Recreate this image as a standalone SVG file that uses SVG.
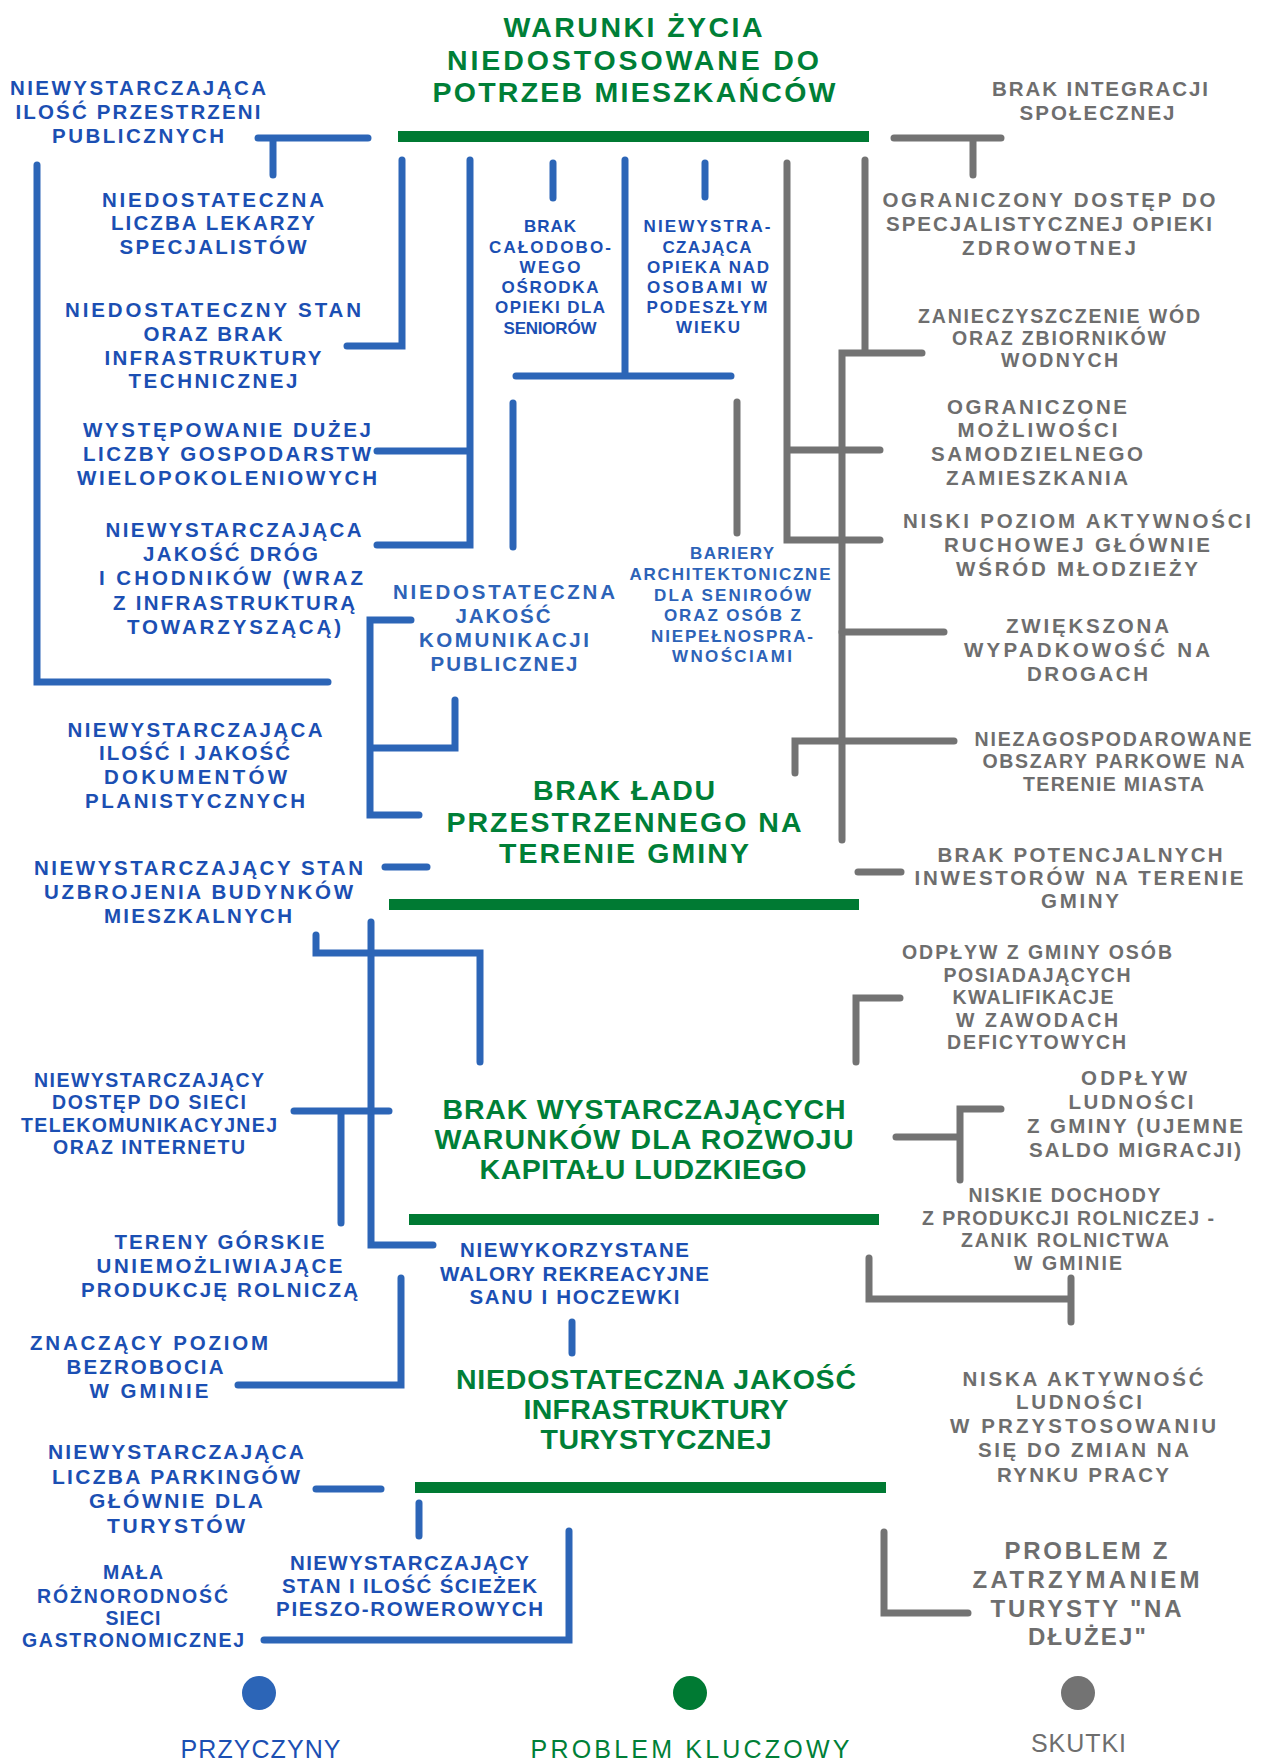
<svg xmlns="http://www.w3.org/2000/svg" width="1264" height="1762" viewBox="0 0 1264 1762">
<style>
text{font-family:"Liberation Sans",Arial,sans-serif;text-anchor:middle;font-weight:700}
.b{fill:#1b4fb3;font-size:20.5px}
.bs{fill:#1b4fb3;font-size:17px}
.bl{fill:#2d63b8;font-size:20.5px}
.bls{fill:#2d63b8;font-size:17px}
.g{fill:#6e6e6e;font-size:20.5px}
.gs{fill:#6e6e6e;font-size:19.5px}
.gb{fill:#6e6e6e;font-size:24px}
.t{fill:#007f37;font-size:28.5px}
.lgd{font-size:25px;font-weight:400}
.lb{stroke:#2c65b7;stroke-width:7;fill:none;stroke-linecap:round}
.lg{stroke:#737373;stroke-width:7;fill:none;stroke-linecap:round}
.bar{fill:#007a33}
</style>
<rect width="1264" height="1762" fill="#ffffff"/>

<g id="connectors">
<g class="lb">
<path d="M258 138H368M273 138V175"/>
<path d="M37 165V682H328"/>
<path d="M402 160V346H347"/>
<path d="M470 160V545H377M377 451H470"/>
<path d="M553 163V198"/>
<path d="M625 160V376M516 376H731"/>
<path d="M705 163V197"/>
<path d="M513 403V547"/>
<path d="M411 620H370V815H419M370 748H455V700"/>
<path d="M385 867H427"/>
<path d="M371 922V1245H433"/>
<path d="M316 935V953H480V1062"/>
<path d="M294 1111H389M341 1111V1223"/>
<path d="M401 1278V1385H238"/>
<path d="M572 1322V1353"/>
<path d="M316 1489H381"/>
<path d="M419 1503V1536"/>
<path d="M569 1531V1640H264"/>
</g>
<g class="lg">
<path d="M894 138H1001M973 138V175"/>
<path d="M787 163V540H880M787 450H880"/>
<path d="M865 160V353M922 353H842V840"/>
<path d="M842 632H944M954 741H795V773"/>
<path d="M858 872H901"/>
<path d="M737 402V533"/>
<path d="M856 1062V998H900"/>
<path d="M896 1137H960M1001 1109H960V1180"/>
<path d="M869 1258V1299H1071M1071 1278V1322"/>
<path d="M884 1532V1613H968"/>
</g>
</g>

<g id="bars">
<rect class="bar" x="398" y="131" width="471" height="11"/>
<rect class="bar" x="389" y="899" width="470" height="11"/>
<rect class="bar" x="409" y="1214" width="470" height="11"/>
<rect class="bar" x="415" y="1482" width="471" height="11"/>
</g>

<g id="key-warunki" class="t">
<text x="633" y="37" textLength="259" lengthAdjust="spacing">WARUNKI ŻYCIA</text>
<text x="633" y="70" textLength="372" lengthAdjust="spacing">NIEDOSTOSOWANE DO</text>
<text x="634" y="102" textLength="403" lengthAdjust="spacing">POTRZEB MIESZKAŃCÓW</text>
</g>
<g id="key-lad" class="t">
<text x="624" y="800" textLength="182" lengthAdjust="spacing">BRAK ŁADU</text>
<text x="624" y="832" textLength="355" lengthAdjust="spacing">PRZESTRZENNEGO NA</text>
<text x="624" y="863" textLength="250" lengthAdjust="spacing">TERENIE GMINY</text>
</g>
<g id="key-kapital" class="t">
<text x="644" y="1119" textLength="403" lengthAdjust="spacing">BRAK  WYSTARCZAJĄCYCH</text>
<text x="644" y="1149" textLength="419" lengthAdjust="spacing">WARUNKÓW DLA ROZWOJU</text>
<text x="643" y="1179" textLength="327" lengthAdjust="spacing">KAPITAŁU LUDZKIEGO</text>
</g>
<g id="key-turystyka" class="t">
<text x="656" y="1389" textLength="400" lengthAdjust="spacing">NIEDOSTATECZNA JAKOŚĆ</text>
<text x="656" y="1419" textLength="265" lengthAdjust="spacing">INFRASTRUKTURY</text>
<text x="656" y="1449" textLength="231" lengthAdjust="spacing">TURYSTYCZNEJ</text>
</g>

<g id="c-przestrzen" class="b">
<text x="138" y="95" textLength="256" lengthAdjust="spacing">NIEWYSTARCZAJĄCA</text>
<text x="138" y="119" textLength="245" lengthAdjust="spacing">ILOŚĆ PRZESTRZENI</text>
<text x="138" y="143" textLength="172" lengthAdjust="spacing">PUBLICZNYCH</text>
</g>
<g id="c-lekarze" class="b">
<text x="213" y="207" textLength="222" lengthAdjust="spacing">NIEDOSTATECZNA</text>
<text x="213" y="230" textLength="204" lengthAdjust="spacing">LICZBA LEKARZY</text>
<text x="213" y="254" textLength="187" lengthAdjust="spacing">SPECJALISTÓW</text>
</g>
<g id="c-osrodek" class="bs">
<text x="550" y="232" textLength="52" lengthAdjust="spacing">BRAK</text>
<text x="550" y="253" textLength="122" lengthAdjust="spacing">CAŁODOBO-</text>
<text x="550" y="273" textLength="61" lengthAdjust="spacing">WEGO</text>
<text x="550" y="293" textLength="97" lengthAdjust="spacing">OŚRODKA</text>
<text x="550" y="313" textLength="110" lengthAdjust="spacing">OPIEKI DLA</text>
<text x="550" y="334" textLength="93" lengthAdjust="spacing">SENIORÓW</text>
</g>
<g id="c-opieka" class="bs">
<text x="707" y="232" textLength="127" lengthAdjust="spacing">NIEWYSTRA-</text>
<text x="707" y="253" textLength="89" lengthAdjust="spacing">CZAJĄCA</text>
<text x="708" y="273" textLength="122" lengthAdjust="spacing">OPIEKA NAD</text>
<text x="707" y="293" textLength="120" lengthAdjust="spacing">OSOBAMI W</text>
<text x="707" y="313" textLength="121" lengthAdjust="spacing">PODESZŁYM</text>
<text x="708" y="333" textLength="64" lengthAdjust="spacing">WIEKU</text>
</g>
<g id="c-infrastruktura" class="b">
<text x="213" y="317" textLength="296" lengthAdjust="spacing">NIEDOSTATECZNY STAN</text>
<text x="213" y="341" textLength="139" lengthAdjust="spacing">ORAZ BRAK</text>
<text x="213" y="365" textLength="217" lengthAdjust="spacing">INFRASTRUKTURY</text>
<text x="213" y="388" textLength="169" lengthAdjust="spacing">TECHNICZNEJ</text>
</g>
<g id="c-gospodarstwa" class="b">
<text x="227" y="437" textLength="288" lengthAdjust="spacing">WYSTĘPOWANIE DUŻEJ</text>
<text x="227" y="461" textLength="288" lengthAdjust="spacing">LICZBY GOSPODARSTW</text>
<text x="227" y="485" textLength="300" lengthAdjust="spacing">WIELOPOKOLENIOWYCH</text>
</g>
<g id="c-drogi" class="b">
<text x="233.5" y="537" textLength="256" lengthAdjust="spacing">NIEWYSTARCZAJĄCA</text>
<text x="230.5" y="561" textLength="175" lengthAdjust="spacing">JAKOŚĆ DRÓG</text>
<text x="231" y="585" textLength="264" lengthAdjust="spacing">I CHODNIKÓW (WRAZ</text>
<text x="234" y="610" textLength="242" lengthAdjust="spacing">Z INFRASTRUKTURĄ</text>
<text x="234" y="634" textLength="214" lengthAdjust="spacing">TOWARZYSZĄCĄ)</text>
</g>
<g id="c-komunikacja" class="bl">
<text x="504" y="599" textLength="222" lengthAdjust="spacing">NIEDOSTATECZNA</text>
<text x="503" y="623" textLength="95" lengthAdjust="spacing">JAKOŚĆ</text>
<text x="504" y="647" textLength="170" lengthAdjust="spacing">KOMUNIKACJI</text>
<text x="504" y="671" textLength="147" lengthAdjust="spacing">PUBLICZNEJ</text>
</g>
<g id="c-bariery" class="bls">
<text x="732" y="559" textLength="84" lengthAdjust="spacing">BARIERY</text>
<text x="730" y="580" textLength="201" lengthAdjust="spacing">ARCHITEKTONICZNE</text>
<text x="732.5" y="601" textLength="157" lengthAdjust="spacing">DLA SENIROÓW</text>
<text x="732.5" y="621" textLength="137" lengthAdjust="spacing">ORAZ OSÓB Z</text>
<text x="732" y="642" textLength="162" lengthAdjust="spacing">NIEPEŁNOSPRA-</text>
<text x="732" y="662" textLength="120" lengthAdjust="spacing">WNOŚCIAMI</text>
</g>
<g id="c-dokumenty" class="b">
<text x="195" y="737" textLength="255" lengthAdjust="spacing">NIEWYSTARCZAJĄCA</text>
<text x="194.5" y="760" textLength="191" lengthAdjust="spacing">ILOŚĆ I JAKOŚĆ</text>
<text x="195.5" y="784" textLength="183" lengthAdjust="spacing">DOKUMENTÓW</text>
<text x="195" y="808" textLength="220" lengthAdjust="spacing">PLANISTYCZNYCH</text>
</g>
<g id="c-uzbrojenie" class="b">
<text x="198.5" y="875" textLength="329" lengthAdjust="spacing">NIEWYSTARCZAJĄCY STAN</text>
<text x="198.5" y="899" textLength="309" lengthAdjust="spacing">UZBROJENIA BUDYNKÓW</text>
<text x="198" y="923" textLength="188" lengthAdjust="spacing">MIESZKALNYCH</text>
</g>
<g id="c-telekom" class="b" style="font-size:19.5px">
<text x="149" y="1087" textLength="230" lengthAdjust="spacing">NIEWYSTARCZAJĄCY</text>
<text x="149" y="1109" textLength="194" lengthAdjust="spacing">DOSTĘP DO SIECI</text>
<text x="149" y="1132" textLength="256" lengthAdjust="spacing">TELEKOMUNIKACYJNEJ</text>
<text x="149" y="1154" textLength="192" lengthAdjust="spacing">ORAZ INTERNETU</text>
</g>
<g id="c-walory" class="b">
<text x="574.5" y="1257" textLength="229" lengthAdjust="spacing">NIEWYKORZYSTANE</text>
<text x="574.5" y="1281" textLength="269" lengthAdjust="spacing">WALORY REKREACYJNE</text>
<text x="574.5" y="1304" textLength="210" lengthAdjust="spacing">SANU I HOCZEWKI</text>
</g>
<g id="c-gory" class="b">
<text x="219.5" y="1249" textLength="210" lengthAdjust="spacing">TERENY GÓRSKIE</text>
<text x="219.5" y="1273" textLength="246" lengthAdjust="spacing">UNIEMOŻLIWIAJĄCE</text>
<text x="219.5" y="1297" textLength="277" lengthAdjust="spacing">PRODUKCJĘ ROLNICZĄ</text>
</g>
<g id="c-bezrobocie" class="b">
<text x="149" y="1350" textLength="238" lengthAdjust="spacing">ZNACZĄCY POZIOM</text>
<text x="145" y="1374" textLength="157" lengthAdjust="spacing">BEZROBOCIA</text>
<text x="149" y="1398" textLength="119" lengthAdjust="spacing">W GMINIE</text>
</g>
<g id="c-parkingi" class="b" style="font-size:21px">
<text x="176" y="1459" textLength="256" lengthAdjust="spacing">NIEWYSTARCZAJĄCA</text>
<text x="176" y="1484" textLength="248" lengthAdjust="spacing">LICZBA PARKINGÓW</text>
<text x="176" y="1508" textLength="174" lengthAdjust="spacing">GŁÓWNIE DLA</text>
<text x="176" y="1533" textLength="138" lengthAdjust="spacing">TURYSTÓW</text>
</g>
<g id="c-gastronomia" class="b" style="font-size:19.5px">
<text x="133" y="1579" textLength="60" lengthAdjust="spacing">MAŁA</text>
<text x="132.5" y="1603" textLength="191" lengthAdjust="spacing">RÓŻNORODNOŚĆ</text>
<text x="133" y="1625" textLength="55" lengthAdjust="spacing">SIECI</text>
<text x="133" y="1647" textLength="222" lengthAdjust="spacing">GASTRONOMICZNEJ</text>
</g>
<g id="c-sciezki" class="b">
<text x="409.5" y="1570" textLength="239" lengthAdjust="spacing">NIEWYSTARCZAJĄCY</text>
<text x="409.5" y="1593" textLength="255" lengthAdjust="spacing">STAN I ILOŚĆ ŚCIEŻEK</text>
<text x="409.5" y="1616" textLength="267" lengthAdjust="spacing">PIESZO-ROWEROWYCH</text>
</g>

<g id="s-integracja" class="g">
<text x="1100" y="96" textLength="216" lengthAdjust="spacing">BRAK INTEGRACJI</text>
<text x="1097" y="120" textLength="155" lengthAdjust="spacing">SPOŁECZNEJ</text>
</g>
<g id="s-opieka" class="g">
<text x="1049" y="207" textLength="333" lengthAdjust="spacing">OGRANICZONY DOSTĘP DO</text>
<text x="1049" y="231" textLength="326" lengthAdjust="spacing">SPECJALISTYCZNEJ OPIEKI</text>
<text x="1049" y="255" textLength="174" lengthAdjust="spacing">ZDROWOTNEJ</text>
</g>
<g id="s-wody" class="gs">
<text x="1059" y="323" textLength="282" lengthAdjust="spacing">ZANIECZYSZCZENIE WÓD</text>
<text x="1059" y="345" textLength="214" lengthAdjust="spacing">ORAZ ZBIORNIKÓW</text>
<text x="1059.5" y="367" textLength="117" lengthAdjust="spacing">WODNYCH</text>
</g>
<g id="s-zamieszkanie" class="g">
<text x="1037" y="414" textLength="180" lengthAdjust="spacing">OGRANICZONE</text>
<text x="1037.5" y="437" textLength="160" lengthAdjust="spacing">MOŻLIWOŚCI</text>
<text x="1037" y="461" textLength="212" lengthAdjust="spacing">SAMODZIELNEGO</text>
<text x="1037" y="485" textLength="182" lengthAdjust="spacing">ZAMIESZKANIA</text>
</g>
<g id="s-aktywnosc" class="g">
<text x="1077" y="528" textLength="348" lengthAdjust="spacing">NISKI POZIOM AKTYWNOŚCI</text>
<text x="1077" y="552" textLength="266" lengthAdjust="spacing">RUCHOWEJ GŁÓWNIE</text>
<text x="1077" y="576" textLength="242" lengthAdjust="spacing">WŚRÓD MŁODZIEŻY</text>
</g>
<g id="s-wypadki" class="g">
<text x="1087.5" y="633" textLength="163" lengthAdjust="spacing">ZWIĘKSZONA</text>
<text x="1087" y="657" textLength="246" lengthAdjust="spacing">WYPADKOWOŚĆ NA</text>
<text x="1087.5" y="681" textLength="121" lengthAdjust="spacing">DROGACH</text>
</g>
<g id="s-parki" class="gs">
<text x="1113" y="746" textLength="277" lengthAdjust="spacing">NIEZAGOSPODAROWANE</text>
<text x="1113.5" y="768" textLength="262" lengthAdjust="spacing">OBSZARY PARKOWE NA</text>
<text x="1113.5" y="791" textLength="181" lengthAdjust="spacing">TERENIE MIASTA</text>
</g>
<g id="s-inwestorzy" class="g">
<text x="1080" y="862" textLength="285" lengthAdjust="spacing">BRAK POTENCJALNYCH</text>
<text x="1079" y="885" textLength="329" lengthAdjust="spacing">INWESTORÓW NA TERENIE</text>
<text x="1080" y="908" textLength="78" lengthAdjust="spacing">GMINY</text>
</g>
<g id="s-kwalifikacje" class="gs">
<text x="1037" y="959" textLength="270" lengthAdjust="spacing">ODPŁYW Z GMINY OSÓB</text>
<text x="1037" y="982" textLength="187" lengthAdjust="spacing">POSIADAJĄCYCH</text>
<text x="1033" y="1004" textLength="161" lengthAdjust="spacing">KWALIFIKACJE</text>
<text x="1037" y="1027" textLength="162" lengthAdjust="spacing">W ZAWODACH</text>
<text x="1036.5" y="1049" textLength="179" lengthAdjust="spacing">DEFICYTOWYCH</text>
</g>
<g id="s-migracja" class="g">
<text x="1134" y="1085" textLength="106" lengthAdjust="spacing">ODPŁYW</text>
<text x="1131" y="1109" textLength="125" lengthAdjust="spacing">LUDNOŚCI</text>
<text x="1135" y="1133" textLength="216" lengthAdjust="spacing">Z GMINY (UJEMNE</text>
<text x="1135" y="1157" textLength="212" lengthAdjust="spacing">SALDO MIGRACJI)</text>
</g>
<g id="s-rolnictwo" class="gs">
<text x="1064.5" y="1202" textLength="192" lengthAdjust="spacing">NISKIE DOCHODY</text>
<text x="1068" y="1225" textLength="292" lengthAdjust="spacing">Z PRODUKCJI ROLNICZEJ -</text>
<text x="1065" y="1247" textLength="208" lengthAdjust="spacing">ZANIK ROLNICTWA</text>
<text x="1068" y="1270" textLength="108" lengthAdjust="spacing">W GMINIE</text>
</g>
<g id="s-rynek" class="g">
<text x="1083" y="1386" textLength="241" lengthAdjust="spacing">NISKA AKTYWNOŚĆ</text>
<text x="1079" y="1409" textLength="126" lengthAdjust="spacing">LUDNOŚCI</text>
<text x="1083" y="1433" textLength="266" lengthAdjust="spacing">W PRZYSTOSOWANIU</text>
<text x="1083.5" y="1457" textLength="211" lengthAdjust="spacing">SIĘ DO ZMIAN NA</text>
<text x="1083" y="1482" textLength="172" lengthAdjust="spacing">RYNKU PRACY</text>
</g>
<g id="s-turysta" class="gb">
<text x="1086" y="1559" textLength="163" lengthAdjust="spacing">PROBLEM Z</text>
<text x="1086" y="1588" textLength="227" lengthAdjust="spacing">ZATRZYMANIEM</text>
<text x="1086" y="1617" textLength="191" lengthAdjust="spacing">TURYSTY "NA</text>
<text x="1087" y="1645" textLength="118" lengthAdjust="spacing">DŁUŻEJ"</text>
</g>

<g id="legend">
<circle cx="259" cy="1693" r="17" fill="#2c65b7"/>
<circle cx="690" cy="1693" r="17" fill="#007a33"/>
<circle cx="1078" cy="1693" r="17" fill="#737373"/>
<text class="lgd" x="260.5" y="1758" fill="#1b4fb3" textLength="160" lengthAdjust="spacing">PRZYCZYNY</text>
<text class="lgd" x="690" y="1758" fill="#007f37" textLength="319" lengthAdjust="spacing">PROBLEM KLUCZOWY</text>
<text class="lgd" x="1078.5" y="1752" fill="#6e6e6e" textLength="95" lengthAdjust="spacing">SKUTKI</text>
</g>
</svg>
